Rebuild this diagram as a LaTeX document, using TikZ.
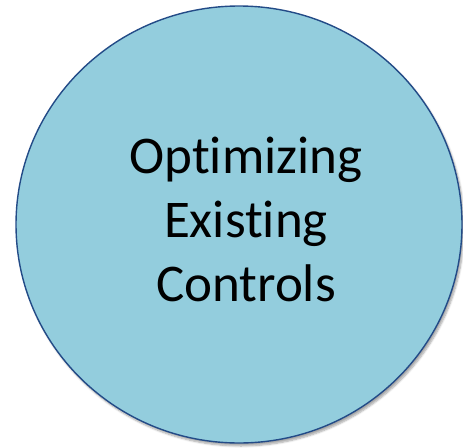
\documentclass[tikz,border=0pt]{standalone}
\usepackage{fontspec}
\setmainfont{Carlito}[RawFeature={-liga}]
\usetikzlibrary{shadows.blur,shapes.geometric}
\definecolor{circfill}{RGB}{147,205,221}
\definecolor{circline}{RGB}{35,75,135}
\tikzset{
  bubble/.style={ellipse, draw=circline, line width=1.4pt, fill=circfill,
    minimum width=446pt, minimum height=437pt, inner sep=0pt,
    blur shadow={shadow xshift=2pt, shadow yshift=-3pt, shadow blur steps=6, shadow opacity=35}},
  label/.style={font=\fontsize{53}{64}\selectfont, align=center, text=black}
}
\begin{document}
\begin{tikzpicture}[x=1pt,y=1pt]
\useasboundingbox (0,0) rectangle (463,-447);
\node[bubble] (c) at (239,-224.5) {};
\node[label] (t) at (246,-219) {Optimizing\\Existing\\Controls};
\end{tikzpicture}
\end{document}
